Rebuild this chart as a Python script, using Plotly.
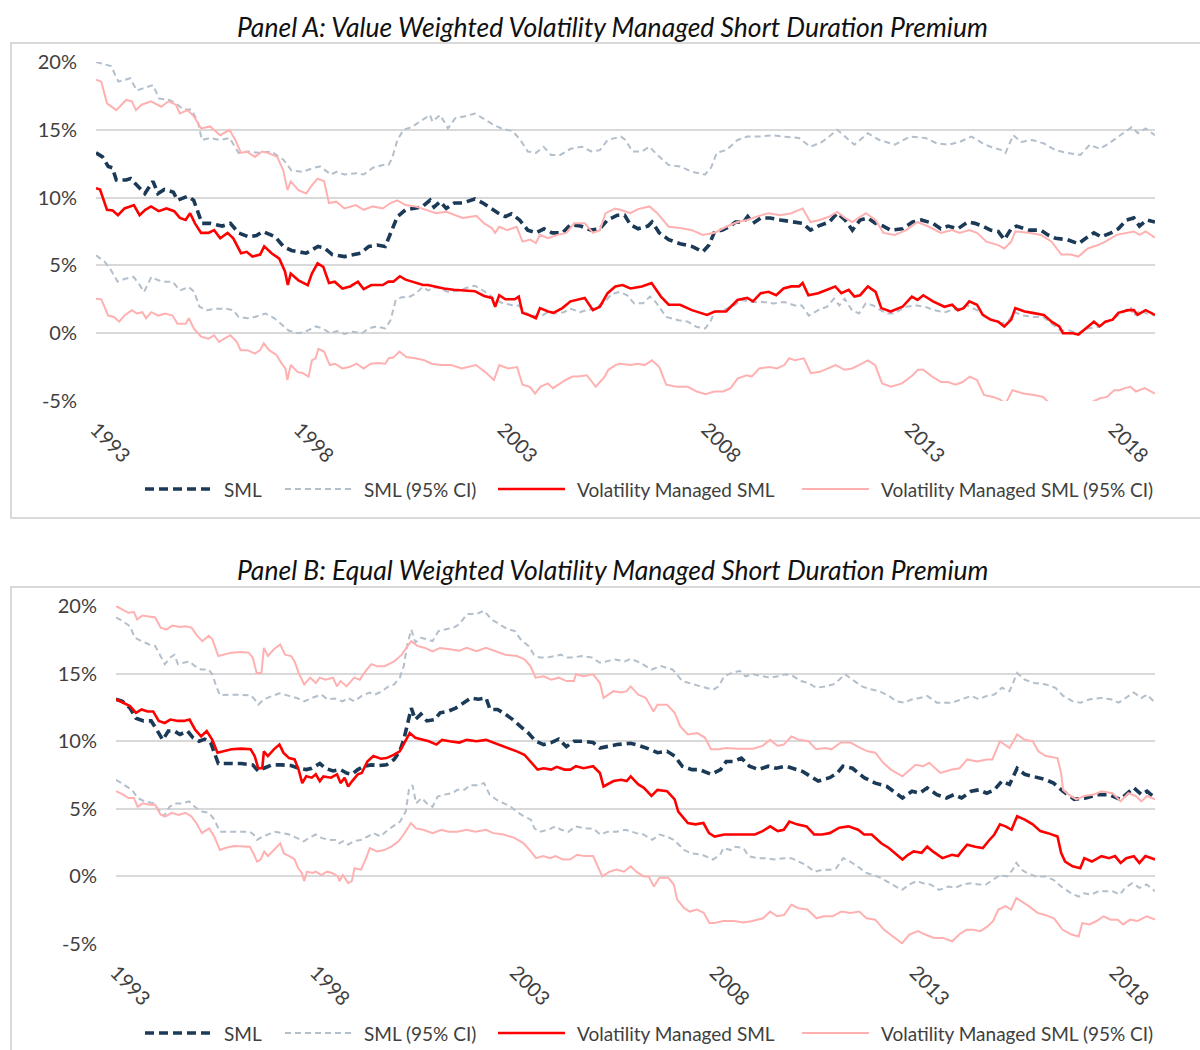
import plotly.graph_objects as go

# ---------------- Panel A data (value weighted) ----------------
a_sml_x = [1993.0, 1993.16, 1993.3, 1993.4, 1993.5, 1993.74, 1993.85, 1994.0, 1994.2, 1994.4, 1994.52, 1994.68, 1994.9, 1995.0, 1995.25, 1995.4, 1995.6, 1995.8, 1996.1, 1996.3, 1996.5, 1996.75, 1996.94, 1997.1, 1997.4, 1997.6, 1997.8, 1998.16, 1998.45, 1998.6, 1998.8, 1999.1, 1999.3, 1999.5, 1999.7, 1999.9, 2000.1, 2000.27, 2000.4, 2000.6, 2000.8, 2001.0, 2001.2, 2001.3, 2001.45, 2001.6, 2001.8, 2002.0, 2002.3, 2002.5, 2002.7, 2002.9, 2003.05, 2003.2, 2003.4, 2003.6, 2003.8, 2004.0, 2004.2, 2004.45, 2004.65, 2004.9, 2005.15, 2005.37, 2005.56, 2005.8, 2005.98, 2006.12, 2006.31, 2006.55, 2006.65, 2006.83, 2007.06, 2007.34, 2007.63, 2007.9, 2008.05, 2008.19, 2008.38, 2008.57, 2008.7, 2008.9, 2009.0, 2009.13, 2009.32, 2009.55, 2009.8, 2010.07, 2010.35, 2010.54, 2010.73, 2011.0, 2011.2, 2011.39, 2011.57, 2011.76, 2011.95, 2012.14, 2012.33, 2012.51, 2012.8, 2013.05, 2013.26, 2013.55, 2013.74, 2013.92, 2014.16, 2014.4, 2014.58, 2014.77, 2014.96, 2015.15, 2015.3, 2015.47, 2015.6, 2015.9, 2016.2, 2016.37, 2016.56, 2016.85, 2017.12, 2017.3, 2017.5, 2017.68, 2017.92, 2018.1, 2018.3, 2018.48, 2018.62, 2018.8, 2019.0]
a_sml_y = [13.3, 13.0, 12.3, 12.2, 11.3, 11.3, 11.4, 10.9, 10.3, 11.2, 10.3, 10.6, 10.4, 9.8, 10.1, 9.8, 8.1, 8.1, 7.9, 8.1, 7.4, 7.1, 7.2, 7.5, 7.1, 6.4, 6.1, 5.9, 6.4, 6.3, 5.8, 5.65, 5.8, 5.9, 6.4, 6.5, 6.4, 7.6, 8.6, 9.1, 9.2, 9.3, 9.8, 9.3, 9.7, 9.2, 9.6, 9.6, 9.9, 9.6, 9.2, 8.8, 8.6, 8.8, 8.35, 7.6, 7.4, 7.7, 7.4, 7.4, 8.0, 7.9, 7.6, 7.7, 8.35, 8.7, 8.7, 8.0, 7.7, 7.9, 8.2, 7.4, 6.9, 6.6, 6.4, 6.0, 6.5, 7.5, 7.6, 7.9, 8.2, 8.2, 8.6, 8.1, 8.5, 8.5, 8.35, 8.2, 8.1, 7.6, 7.9, 8.2, 8.85, 8.35, 7.6, 8.35, 8.5, 8.1, 7.9, 7.6, 7.7, 8.2, 8.35, 8.1, 7.7, 7.9, 7.7, 8.2, 8.1, 7.9, 7.6, 7.5, 6.9, 7.7, 7.9, 7.6, 7.6, 7.25, 7.0, 6.9, 6.6, 7.0, 7.4, 7.1, 7.4, 7.7, 8.35, 8.5, 7.9, 8.35, 8.2]

a_sml_hi_x = [1993.0, 1993.37, 1993.55, 1993.84, 1994.0, 1994.2, 1994.4, 1994.55, 1994.8, 1994.96, 1995.15, 1995.34, 1995.5, 1995.6, 1995.8, 1996.05, 1996.28, 1996.5, 1996.75, 1997.0, 1997.3, 1997.6, 1997.8, 1998.07, 1998.35, 1998.5, 1998.77, 1998.9, 1999.1, 1999.4, 1999.57, 1999.8, 2000.04, 2000.18, 2000.27, 2000.4, 2000.55, 2000.75, 2001.0, 2001.2, 2001.26, 2001.45, 2001.64, 2001.82, 2002.06, 2002.3, 2002.5, 2002.77, 2002.96, 2003.23, 2003.42, 2003.6, 2003.8, 2003.99, 2004.17, 2004.4, 2004.65, 2004.93, 2005.16, 2005.37, 2005.56, 2005.89, 2006.0, 2006.17, 2006.4, 2006.59, 2006.78, 2007.06, 2007.34, 2007.63, 2007.95, 2008.1, 2008.24, 2008.47, 2008.75, 2008.99, 2009.32, 2009.6, 2009.88, 2010.26, 2010.54, 2010.82, 2011.0, 2011.2, 2011.39, 2011.62, 2011.95, 2012.23, 2012.61, 2012.98, 2013.36, 2013.64, 2013.92, 2014.2, 2014.49, 2014.77, 2014.96, 2015.24, 2015.33, 2015.52, 2015.71, 2015.99, 2016.27, 2016.55, 2016.84, 2017.17, 2017.4, 2017.64, 2017.87, 2018.15, 2018.43, 2018.58, 2018.77, 2019.0]
a_sml_hi_y = [20.0, 19.7, 18.55, 18.8, 17.9, 18.1, 18.3, 17.3, 17.2, 16.95, 16.5, 16.5, 15.6, 14.25, 14.4, 14.25, 14.4, 13.3, 13.4, 13.3, 13.4, 12.8, 12.0, 11.9, 12.2, 12.3, 11.7, 11.9, 11.7, 11.8, 11.7, 12.2, 12.4, 12.4, 12.9, 14.25, 15.0, 15.2, 15.7, 16.1, 15.6, 16.1, 15.1, 15.85, 16.0, 16.2, 15.85, 15.35, 15.1, 14.9, 14.25, 13.4, 13.3, 13.75, 13.15, 13.15, 13.6, 13.75, 13.4, 13.5, 14.25, 14.5, 14.25, 13.4, 13.4, 13.75, 13.15, 12.4, 12.3, 11.9, 11.7, 12.2, 13.3, 13.5, 14.25, 14.5, 14.5, 14.6, 14.5, 14.4, 13.75, 14.1, 14.5, 15.0, 14.5, 13.9, 14.75, 14.25, 13.9, 14.5, 14.4, 14.0, 13.9, 14.1, 14.5, 14.0, 13.75, 13.5, 13.3, 14.6, 14.1, 14.25, 14.0, 13.5, 13.3, 13.15, 13.9, 13.6, 14.0, 14.6, 15.2, 14.75, 15.1, 14.6]

a_sml_lo_x = [1993.0, 1993.22, 1993.35, 1993.53, 1993.7, 1993.92, 1994.05, 1994.18, 1994.36, 1994.53, 1994.7, 1994.88, 1995.06, 1995.28, 1995.41, 1995.54, 1995.72, 1995.94, 1996.2, 1996.37, 1996.5, 1996.72, 1996.9, 1997.16, 1997.38, 1997.56, 1997.73, 1997.95, 1998.13, 1998.4, 1998.57, 1998.74, 1998.92, 1999.1, 1999.3, 1999.53, 1999.7, 1999.88, 2000.1, 2000.23, 2000.36, 2000.5, 2000.67, 2000.84, 2001.02, 2001.15, 2001.37, 2001.63, 2001.9, 2002.16, 2002.3, 2002.5, 2002.68, 2002.8, 2003.0, 2003.25, 2003.38, 2003.5, 2003.74, 2003.9, 2004.09, 2004.26, 2004.48, 2004.66, 2004.88, 2005.05, 2005.22, 2005.49, 2005.66, 2005.86, 2006.04, 2006.21, 2006.43, 2006.6, 2006.74, 2007.0, 2007.3, 2007.53, 2007.75, 2007.96, 2008.1, 2008.18, 2008.4, 2008.67, 2008.84, 2009.1, 2009.37, 2009.63, 2009.9, 2010.16, 2010.33, 2010.5, 2010.73, 2010.95, 2011.12, 2011.25, 2011.38, 2011.56, 2011.73, 2011.9, 2012.08, 2012.26, 2012.43, 2012.6, 2012.87, 2013.14, 2013.35, 2013.57, 2013.84, 2014.0, 2014.19, 2014.4, 2014.63, 2014.85, 2015.06, 2015.24, 2015.41, 2015.55, 2015.77, 2016.03, 2016.25, 2016.47, 2016.68, 2016.9, 2017.12, 2017.34, 2017.6, 2017.82, 2018.04, 2018.22, 2018.4, 2018.48, 2018.66, 2018.79, 2019.0]
a_sml_lo_y = [5.75, 5.25, 4.75, 3.8, 4.0, 4.15, 3.65, 3.05, 4.15, 3.9, 3.8, 3.8, 3.15, 3.4, 3.05, 1.95, 1.7, 1.8, 1.8, 1.7, 1.2, 1.1, 1.2, 1.45, 1.1, 0.6, 0.2, 0.0, 0.1, 0.5, 0.35, 0.0, 0.15, -0.05, 0.1, 0.0, 0.35, 0.5, 0.35, 0.95, 2.45, 2.65, 2.65, 2.9, 3.4, 3.15, 3.4, 3.05, 3.15, 3.4, 3.5, 3.15, 2.8, 2.45, 2.2, 2.05, 2.05, 1.55, 1.3, 1.2, 1.55, 1.45, 1.55, 1.8, 1.55, 1.7, 1.8, 2.3, 2.9, 3.05, 2.8, 2.2, 2.2, 2.7, 2.3, 1.2, 0.95, 0.85, 0.45, 0.35, 0.95, 1.55, 1.7, 2.05, 2.45, 2.3, 2.3, 2.2, 2.3, 2.05, 2.05, 1.3, 1.7, 1.95, 2.55, 2.05, 2.55, 1.7, 1.45, 2.2, 2.05, 1.7, 1.45, 1.45, 1.95, 2.05, 1.95, 1.7, 1.55, 1.7, 1.8, 2.05, 1.7, 1.2, 0.95, 0.7, 0.95, 1.55, 1.3, 1.2, 1.2, 0.7, 0.2, 0.2, 0.0, 0.35, 0.45, 0.85, 1.2, 1.55, 1.95, 1.3, 1.7, 1.45, 1.3]

a_vm_x = [1993.0, 1993.1, 1993.27, 1993.41, 1993.54, 1993.7, 1993.84, 1993.93, 1994.07, 1994.21, 1994.35, 1994.54, 1994.73, 1994.92, 1995.06, 1995.2, 1995.31, 1995.43, 1995.58, 1995.76, 1995.9, 1996.05, 1996.23, 1996.37, 1996.56, 1996.7, 1996.84, 1997.03, 1997.13, 1997.31, 1997.5, 1997.64, 1997.71, 1997.78, 1997.97, 1998.2, 1998.3, 1998.44, 1998.58, 1998.72, 1998.86, 1999.05, 1999.24, 1999.43, 1999.57, 1999.76, 2000.04, 2000.18, 2000.3, 2000.46, 2000.6, 2000.84, 2001.03, 2001.15, 2001.3, 2001.54, 2001.78, 2002.0, 2002.3, 2002.53, 2002.72, 2002.8, 2002.9, 2003.05, 2003.28, 2003.38, 2003.47, 2003.66, 2003.8, 2003.9, 2004.1, 2004.23, 2004.45, 2004.65, 2004.8, 2005.0, 2005.2, 2005.37, 2005.56, 2005.75, 2005.93, 2006.12, 2006.4, 2006.64, 2006.87, 2007.06, 2007.34, 2007.63, 2008.0, 2008.19, 2008.47, 2008.75, 2008.99, 2009.13, 2009.32, 2009.51, 2009.7, 2009.88, 2010.07, 2010.26, 2010.35, 2010.49, 2010.73, 2010.92, 2011.15, 2011.3, 2011.48, 2011.62, 2011.76, 2011.95, 2012.14, 2012.28, 2012.51, 2012.8, 2013.03, 2013.17, 2013.31, 2013.55, 2013.83, 2014.02, 2014.16, 2014.3, 2014.44, 2014.63, 2014.77, 2014.96, 2015.15, 2015.3, 2015.47, 2015.57, 2015.8, 2015.99, 2016.27, 2016.46, 2016.65, 2016.74, 2016.98, 2017.12, 2017.3, 2017.5, 2017.64, 2017.78, 2017.96, 2018.1, 2018.34, 2018.48, 2018.57, 2018.77, 2019.0]
a_vm_y = [10.7, 10.6, 9.1, 9.05, 8.7, 9.2, 9.35, 9.45, 8.7, 9.1, 9.35, 9.0, 9.2, 9.0, 8.5, 8.35, 8.85, 8.1, 7.4, 7.4, 7.6, 7.0, 7.4, 7.0, 5.9, 6.0, 5.65, 5.8, 6.4, 5.9, 5.5, 4.55, 3.55, 4.4, 3.9, 3.55, 4.4, 5.15, 4.9, 3.7, 3.8, 3.3, 3.45, 3.8, 3.25, 3.55, 3.55, 3.8, 3.8, 4.2, 3.95, 3.7, 3.55, 3.55, 3.45, 3.3, 3.2, 3.15, 3.1, 2.75, 2.6, 1.95, 2.8, 2.5, 2.5, 2.7, 1.5, 1.3, 1.1, 1.85, 1.6, 1.5, 1.85, 2.35, 2.45, 2.6, 1.7, 1.95, 2.95, 3.45, 3.55, 3.3, 3.45, 3.7, 2.7, 2.1, 2.1, 1.7, 1.35, 1.6, 1.6, 2.45, 2.6, 2.35, 2.95, 3.05, 2.8, 3.3, 3.45, 3.45, 3.7, 2.8, 2.95, 3.2, 3.45, 2.95, 3.2, 2.7, 2.8, 3.45, 3.05, 1.85, 1.6, 1.95, 2.7, 2.45, 2.8, 2.35, 1.95, 2.1, 1.7, 1.85, 2.35, 2.1, 1.35, 1.0, 0.85, 0.5, 1.0, 1.85, 1.6, 1.5, 1.35, 0.85, 0.5, 0.0, 0.0, -0.1, 0.35, 0.85, 0.5, 0.85, 1.0, 1.5, 1.7, 1.7, 1.35, 1.7, 1.35]

a_vm_hi_x = [1993.0, 1993.13, 1993.27, 1993.5, 1993.74, 1993.88, 1993.98, 1994.12, 1994.35, 1994.6, 1994.78, 1994.96, 1995.06, 1995.25, 1995.4, 1995.58, 1995.8, 1996.05, 1996.28, 1996.42, 1996.56, 1996.7, 1996.9, 1997.08, 1997.22, 1997.45, 1997.6, 1997.7, 1997.78, 1997.97, 1998.16, 1998.3, 1998.44, 1998.6, 1998.72, 1998.9, 1999.1, 1999.38, 1999.57, 1999.8, 2000.04, 2000.23, 2000.4, 2000.6, 2000.84, 2001.07, 2001.35, 2001.6, 2001.82, 2002.0, 2002.34, 2002.53, 2002.72, 2002.8, 2002.9, 2003.1, 2003.33, 2003.47, 2003.66, 2003.8, 2003.9, 2004.1, 2004.33, 2004.55, 2004.74, 2005.0, 2005.2, 2005.37, 2005.51, 2005.75, 2005.93, 2006.12, 2006.31, 2006.59, 2006.78, 2007.06, 2007.34, 2007.63, 2007.9, 2008.19, 2008.47, 2008.75, 2008.99, 2009.22, 2009.51, 2009.8, 2010.07, 2010.35, 2010.54, 2010.77, 2011.0, 2011.2, 2011.39, 2011.57, 2011.9, 2012.14, 2012.33, 2012.61, 2012.89, 2013.17, 2013.45, 2013.74, 2014.02, 2014.2, 2014.44, 2014.63, 2014.86, 2015.15, 2015.3, 2015.47, 2015.57, 2015.9, 2016.2, 2016.46, 2016.7, 2016.93, 2017.12, 2017.35, 2017.6, 2017.78, 2018.06, 2018.34, 2018.48, 2018.62, 2018.77, 2019.0]
a_vm_hi_y = [18.7, 18.55, 16.95, 16.45, 17.2, 17.1, 16.45, 16.85, 17.1, 16.7, 17.1, 16.85, 16.2, 16.45, 16.0, 15.1, 15.25, 14.6, 15.0, 14.25, 13.3, 13.4, 13.0, 13.4, 13.3, 13.0, 12.0, 10.55, 11.2, 10.55, 10.3, 10.9, 11.4, 11.2, 9.6, 9.7, 9.2, 9.45, 9.1, 9.35, 9.2, 9.6, 9.8, 9.45, 9.35, 9.1, 8.85, 8.95, 8.7, 8.5, 8.65, 8.1, 7.75, 7.4, 7.85, 7.6, 7.85, 6.75, 6.9, 6.65, 7.25, 7.0, 7.25, 7.4, 8.1, 8.1, 7.4, 7.6, 8.85, 9.2, 9.05, 8.85, 9.15, 9.35, 8.85, 7.85, 7.75, 7.6, 7.25, 7.4, 7.85, 8.2, 8.35, 8.6, 8.85, 8.7, 8.85, 9.2, 8.2, 8.35, 8.6, 8.95, 8.5, 8.2, 8.85, 8.35, 7.4, 7.25, 7.6, 8.2, 7.85, 7.4, 7.6, 7.4, 7.6, 7.4, 6.75, 6.5, 6.25, 6.75, 7.5, 7.4, 7.25, 6.75, 5.8, 5.8, 5.65, 6.25, 6.5, 6.75, 7.25, 7.4, 7.5, 7.25, 7.5, 7.05]

a_vm_lo_x = [1993.0, 1993.13, 1993.3, 1993.44, 1993.57, 1993.7, 1993.88, 1994.0, 1994.14, 1994.23, 1994.36, 1994.53, 1994.7, 1994.88, 1995.0, 1995.2, 1995.28, 1995.4, 1995.58, 1995.76, 1995.9, 1996.02, 1996.15, 1996.3, 1996.46, 1996.55, 1996.72, 1996.9, 1997.03, 1997.12, 1997.25, 1997.43, 1997.56, 1997.65, 1997.7, 1997.78, 1997.95, 1998.08, 1998.22, 1998.3, 1998.39, 1998.46, 1998.6, 1998.74, 1998.87, 1999.05, 1999.22, 1999.4, 1999.57, 1999.75, 1999.92, 2000.1, 2000.19, 2000.3, 2000.45, 2000.62, 2000.84, 2001.06, 2001.24, 2001.46, 2001.72, 2001.98, 2002.33, 2002.55, 2002.77, 2002.9, 2003.12, 2003.34, 2003.47, 2003.65, 2003.78, 2003.91, 2004.09, 2004.22, 2004.4, 2004.53, 2004.7, 2004.83, 2005.05, 2005.27, 2005.49, 2005.58, 2005.75, 2005.86, 2006.12, 2006.3, 2006.47, 2006.65, 2006.83, 2007.0, 2007.26, 2007.53, 2007.75, 2007.96, 2008.18, 2008.4, 2008.58, 2008.75, 2008.97, 2009.1, 2009.28, 2009.54, 2009.72, 2009.9, 2010.02, 2010.16, 2010.38, 2010.55, 2010.77, 2010.95, 2011.16, 2011.38, 2011.56, 2011.73, 2011.95, 2012.13, 2012.3, 2012.52, 2012.79, 2013.05, 2013.18, 2013.31, 2013.53, 2013.75, 2013.92, 2014.1, 2014.28, 2014.45, 2014.63, 2014.8, 2015.02, 2015.2, 2015.33, 2015.5, 2015.77, 2016.03, 2016.25, 2016.42, 2016.64, 2016.9, 2017.12, 2017.34, 2017.47, 2017.65, 2017.82, 2018.0, 2018.13, 2018.26, 2018.4, 2018.53, 2018.75, 2019.0]
a_vm_lo_y = [2.55, 2.5, 1.3, 1.2, 0.85, 1.3, 1.7, 1.45, 1.55, 1.1, 1.55, 1.3, 1.45, 1.3, 0.7, 0.7, 1.1, 0.35, -0.25, -0.4, -0.15, -0.65, -0.4, -0.15, -0.65, -1.25, -1.25, -1.5, -1.25, -0.75, -1.25, -1.6, -2.25, -2.6, -3.45, -2.35, -2.85, -2.95, -3.2, -2.0, -1.85, -1.15, -1.35, -2.35, -2.25, -2.6, -2.5, -2.25, -2.6, -2.25, -2.2, -2.25, -1.85, -1.8, -1.35, -1.75, -1.85, -2.0, -2.25, -2.35, -2.35, -2.6, -2.35, -2.85, -3.45, -2.35, -2.6, -2.5, -3.8, -3.95, -4.45, -3.95, -3.7, -4.05, -3.7, -3.45, -3.2, -3.2, -3.1, -3.95, -3.2, -2.7, -2.35, -2.25, -2.35, -2.25, -2.35, -2.0, -2.5, -3.8, -3.95, -3.95, -4.3, -4.5, -4.3, -4.3, -4.05, -3.35, -3.1, -3.2, -2.6, -2.5, -2.6, -2.35, -1.85, -2.0, -1.85, -2.95, -2.85, -2.6, -2.35, -2.7, -2.6, -2.35, -2.0, -2.35, -3.7, -3.95, -3.7, -3.1, -2.7, -2.7, -3.2, -3.6, -3.6, -3.8, -3.6, -3.2, -3.45, -4.55, -4.7, -4.9, -5.2, -4.2, -4.45, -4.55, -4.7, -5.2, -5.7, -5.7, -5.8, -5.3, -5.05, -4.8, -4.7, -4.2, -4.2, -4.05, -3.95, -4.3, -4.05, -4.45]

# ---------------- Panel B data (equal weighted) ----------------
b_sml_x = [1993.0, 1993.16, 1993.35, 1993.5, 1993.69, 1993.88, 1994.02, 1994.17, 1994.31, 1994.46, 1994.6, 1994.79, 1994.93, 1995.08, 1995.22, 1995.37, 1995.46, 1995.56, 1995.84, 1996.13, 1996.42, 1996.56, 1996.7, 1996.9, 1997.14, 1997.38, 1997.57, 1997.76, 1997.9, 1998.1, 1998.24, 1998.43, 1998.62, 1998.77, 1998.91, 1999.05, 1999.2, 1999.39, 1999.58, 1999.77, 1999.96, 2000.1, 2000.2, 2000.3, 2000.39, 2000.49, 2000.63, 2000.78, 2000.97, 2001.11, 2001.3, 2001.5, 2001.69, 2001.88, 2002.07, 2002.26, 2002.36, 2002.55, 2002.74, 2002.93, 2003.12, 2003.32, 2003.5, 2003.7, 2003.89, 2004.08, 2004.27, 2004.46, 2004.7, 2004.94, 2005.11, 2005.3, 2005.54, 2005.88, 2006.07, 2006.36, 2006.55, 2006.79, 2006.98, 2007.17, 2007.41, 2007.6, 2007.89, 2008.13, 2008.27, 2008.46, 2008.65, 2008.85, 2009.08, 2009.32, 2009.52, 2009.76, 2009.95, 2010.19, 2010.38, 2010.57, 2010.86, 2011.05, 2011.19, 2011.43, 2011.72, 2012.0, 2012.29, 2012.53, 2012.68, 2012.92, 2013.11, 2013.3, 2013.54, 2013.78, 2013.97, 2014.16, 2014.4, 2014.59, 2014.79, 2014.98, 2015.17, 2015.36, 2015.55, 2015.74, 2016.03, 2016.27, 2016.46, 2016.7, 2016.98, 2017.27, 2017.56, 2017.85, 2018.13, 2018.28, 2018.47, 2018.66, 2018.8, 2019.0]
b_sml_y = [13.1, 12.95, 12.45, 11.7, 11.5, 11.5, 10.85, 10.1, 10.75, 10.75, 10.5, 10.75, 10.25, 10.0, 10.15, 9.9, 9.15, 8.35, 8.35, 8.35, 8.25, 7.8, 8.0, 8.25, 8.25, 8.2, 8.0, 7.9, 8.0, 8.35, 8.0, 7.8, 7.9, 7.65, 7.55, 7.9, 8.15, 8.25, 8.2, 8.25, 8.65, 9.25, 10.1, 11.25, 12.45, 11.6, 12.0, 11.5, 11.6, 12.1, 12.2, 12.45, 12.85, 13.2, 13.1, 13.2, 12.35, 12.35, 12.0, 11.6, 11.1, 10.6, 10.0, 9.75, 9.9, 10.15, 9.6, 10.0, 10.0, 9.9, 9.5, 9.6, 9.75, 9.85, 9.7, 9.4, 9.15, 9.25, 8.9, 8.15, 7.9, 7.9, 7.55, 7.9, 8.5, 8.5, 8.75, 8.15, 7.9, 8.15, 8.0, 8.15, 8.0, 7.75, 7.4, 7.05, 7.3, 7.65, 8.15, 8.0, 7.3, 6.9, 6.65, 6.15, 5.8, 6.3, 6.15, 6.55, 6.05, 5.8, 6.05, 5.8, 6.3, 6.4, 6.15, 6.4, 7.05, 6.8, 8.0, 7.55, 7.3, 7.15, 6.9, 6.3, 5.7, 5.8, 6.05, 6.05, 5.7, 6.05, 6.55, 6.05, 6.3, 5.8]

b_sml_hi_x = [1993.0, 1993.16, 1993.35, 1993.47, 1993.64, 1993.83, 1993.98, 1994.12, 1994.22, 1994.36, 1994.46, 1994.55, 1994.7, 1994.84, 1994.98, 1995.13, 1995.32, 1995.41, 1995.51, 1995.6, 1995.84, 1996.13, 1996.37, 1996.47, 1996.56, 1996.7, 1996.9, 1997.09, 1997.33, 1997.52, 1997.71, 1997.9, 1998.14, 1998.29, 1998.48, 1998.67, 1998.81, 1998.96, 1999.15, 1999.34, 1999.48, 1999.63, 1999.82, 1999.96, 2000.1, 2000.2, 2000.3, 2000.39, 2000.49, 2000.63, 2000.78, 2000.92, 2001.07, 2001.26, 2001.45, 2001.59, 2001.78, 2002.02, 2002.21, 2002.4, 2002.59, 2002.79, 2002.98, 2003.12, 2003.32, 2003.46, 2003.6, 2003.8, 2003.99, 2004.13, 2004.27, 2004.46, 2004.65, 2004.9, 2005.11, 2005.25, 2005.49, 2005.73, 2005.88, 2006.12, 2006.4, 2006.64, 2006.93, 2007.17, 2007.46, 2007.7, 2007.94, 2008.08, 2008.22, 2008.41, 2008.61, 2008.75, 2008.94, 2009.18, 2009.37, 2009.56, 2009.76, 2009.95, 2010.14, 2010.33, 2010.52, 2010.76, 2010.95, 2011.1, 2011.24, 2011.43, 2011.67, 2011.86, 2012.1, 2012.34, 2012.53, 2012.72, 2012.92, 2013.11, 2013.3, 2013.54, 2013.73, 2013.92, 2014.16, 2014.4, 2014.59, 2014.79, 2014.98, 2015.17, 2015.36, 2015.55, 2015.74, 2015.98, 2016.27, 2016.51, 2016.7, 2016.94, 2017.13, 2017.37, 2017.66, 2017.9, 2018.09, 2018.28, 2018.47, 2018.66, 2018.8, 2019.0]
b_sml_hi_y = [19.15, 18.9, 18.5, 17.65, 17.4, 17.15, 17.05, 16.3, 15.7, 16.2, 16.4, 15.7, 15.8, 15.9, 15.55, 15.3, 15.3, 14.95, 14.05, 13.4, 13.45, 13.4, 13.4, 13.1, 12.7, 13.1, 13.35, 13.55, 13.35, 13.2, 12.95, 13.2, 13.45, 13.1, 13.15, 12.95, 13.2, 12.95, 13.35, 13.6, 13.45, 13.65, 14.05, 14.2, 14.7, 15.55, 17.3, 18.25, 17.3, 17.65, 17.55, 17.4, 18.15, 18.3, 18.4, 18.65, 19.4, 19.4, 19.65, 19.0, 18.65, 18.3, 18.15, 17.55, 17.05, 16.4, 16.2, 16.2, 16.3, 16.4, 16.2, 16.2, 16.3, 16.2, 15.8, 15.9, 16.05, 15.9, 16.1, 15.8, 15.3, 15.55, 15.3, 14.45, 14.2, 14.05, 13.8, 14.05, 14.8, 15.05, 15.2, 14.8, 14.95, 14.8, 14.7, 14.8, 14.95, 14.8, 14.45, 14.3, 13.95, 14.05, 14.2, 14.55, 14.95, 14.55, 14.05, 13.85, 13.7, 13.35, 12.95, 12.85, 13.1, 13.2, 13.35, 12.85, 12.85, 12.85, 13.1, 13.35, 13.1, 13.35, 13.45, 13.95, 13.7, 15.05, 14.55, 14.3, 14.2, 13.95, 13.35, 12.95, 12.85, 13.1, 13.2, 13.1, 12.85, 13.2, 13.6, 13.2, 13.45, 12.85]

b_sml_lo_x = [1993.0, 1993.22, 1993.4, 1993.54, 1993.72, 1993.94, 1994.07, 1994.2, 1994.34, 1994.48, 1994.65, 1994.83, 1994.97, 1995.15, 1995.33, 1995.46, 1995.6, 1995.82, 1996.13, 1996.35, 1996.44, 1996.53, 1996.67, 1996.8, 1996.98, 1997.16, 1997.34, 1997.52, 1997.7, 1997.83, 1998.0, 1998.14, 1998.32, 1998.5, 1998.59, 1998.68, 1998.81, 1998.95, 1999.13, 1999.3, 1999.44, 1999.62, 1999.75, 1999.93, 2000.11, 2000.25, 2000.33, 2000.42, 2000.51, 2000.65, 2000.78, 2000.92, 2001.05, 2001.23, 2001.41, 2001.54, 2001.72, 2001.86, 2002.03, 2002.21, 2002.35, 2002.53, 2002.7, 2002.88, 2003.02, 2003.2, 2003.38, 2003.47, 2003.6, 2003.82, 2004.0, 2004.14, 2004.32, 2004.5, 2004.72, 2004.94, 2005.12, 2005.3, 2005.52, 2005.75, 2006.02, 2006.2, 2006.42, 2006.6, 2006.78, 2006.96, 2007.22, 2007.4, 2007.67, 2007.94, 2008.12, 2008.2, 2008.38, 2008.47, 2008.7, 2008.83, 2009.05, 2009.28, 2009.46, 2009.72, 2009.9, 2010.08, 2010.26, 2010.48, 2010.7, 2010.88, 2011.02, 2011.2, 2011.37, 2011.55, 2011.78, 2011.96, 2012.13, 2012.36, 2012.67, 2012.85, 2013.03, 2013.2, 2013.38, 2013.6, 2013.83, 2014.0, 2014.19, 2014.4, 2014.59, 2014.77, 2014.95, 2015.12, 2015.3, 2015.44, 2015.53, 2015.66, 2015.8, 2016.02, 2016.25, 2016.46, 2016.69, 2016.91, 2017.09, 2017.22, 2017.41, 2017.58, 2017.76, 2017.94, 2018.12, 2018.25, 2018.43, 2018.61, 2018.79, 2019.0]
b_sml_lo_y = [7.15, 6.75, 6.4, 5.8, 5.55, 5.4, 4.9, 4.45, 5.15, 5.4, 5.4, 5.55, 5.15, 4.8, 4.7, 4.2, 3.3, 3.3, 3.3, 3.3, 3.1, 2.7, 2.95, 3.1, 3.3, 3.2, 3.1, 2.85, 2.6, 2.85, 3.1, 2.85, 2.7, 2.7, 2.45, 2.6, 2.35, 2.6, 2.7, 2.95, 3.2, 2.95, 3.3, 3.7, 4.05, 4.8, 6.4, 6.75, 5.4, 5.8, 5.4, 5.15, 5.9, 6.05, 6.15, 6.4, 6.4, 6.75, 6.75, 6.9, 6.05, 5.65, 5.4, 5.15, 4.8, 4.45, 4.2, 3.55, 3.3, 3.45, 3.7, 3.45, 3.3, 3.7, 3.55, 3.55, 3.1, 3.3, 3.3, 3.45, 3.2, 3.1, 2.7, 3.1, 2.95, 2.7, 1.95, 1.7, 1.6, 1.25, 1.6, 2.1, 1.95, 2.2, 2.1, 1.5, 1.35, 1.35, 1.25, 1.35, 1.35, 1.1, 0.85, 0.35, 0.5, 0.5, 0.6, 1.35, 1.1, 0.75, 0.25, 0.1, -0.1, -0.5, -1.0, -0.6, -0.35, -0.5, -0.6, -1.0, -0.75, -0.85, -0.6, -0.5, -0.6, -0.6, -0.25, 0.1, 0.0, 0.5, 1.0, 0.5, 0.25, 0.0, 0.0, -0.25, -0.85, -1.25, -1.5, -1.25, -1.35, -1.1, -1.1, -1.1, -1.35, -0.85, -0.5, -0.85, -0.6, -1.1]

b_vm_x = [1993.0, 1993.16, 1993.35, 1993.5, 1993.64, 1993.79, 1993.93, 1994.07, 1994.22, 1994.36, 1994.55, 1994.7, 1994.84, 1994.98, 1995.13, 1995.27, 1995.41, 1995.54, 1995.7, 1995.89, 1996.13, 1996.37, 1996.47, 1996.56, 1996.66, 1996.7, 1996.8, 1996.95, 1997.09, 1997.19, 1997.33, 1997.47, 1997.57, 1997.66, 1997.76, 1997.9, 1998.0, 1998.1, 1998.19, 1998.38, 1998.53, 1998.62, 1998.72, 1998.81, 1998.91, 1999.05, 1999.15, 1999.29, 1999.44, 1999.63, 1999.77, 1999.96, 2000.1, 2000.25, 2000.35, 2000.49, 2000.63, 2000.83, 2001.02, 2001.16, 2001.35, 2001.59, 2001.78, 2002.02, 2002.26, 2002.45, 2002.74, 2003.03, 2003.22, 2003.41, 2003.55, 2003.7, 2003.89, 2004.03, 2004.22, 2004.37, 2004.51, 2004.7, 2004.94, 2005.11, 2005.2, 2005.45, 2005.64, 2005.78, 2005.88, 2006.07, 2006.21, 2006.4, 2006.55, 2006.79, 2006.98, 2007.07, 2007.17, 2007.31, 2007.5, 2007.7, 2007.84, 2007.98, 2008.22, 2008.46, 2008.75, 2008.99, 2009.18, 2009.37, 2009.56, 2009.71, 2009.85, 2010.04, 2010.28, 2010.47, 2010.67, 2010.86, 2011.1, 2011.33, 2011.57, 2011.72, 2011.91, 2012.15, 2012.34, 2012.53, 2012.68, 2012.82, 2012.96, 2013.16, 2013.3, 2013.44, 2013.68, 2013.92, 2014.07, 2014.16, 2014.3, 2014.5, 2014.69, 2014.83, 2014.98, 2015.12, 2015.26, 2015.41, 2015.55, 2015.74, 2015.94, 2016.13, 2016.32, 2016.56, 2016.65, 2016.75, 2016.94, 2017.13, 2017.23, 2017.42, 2017.66, 2017.85, 2018.0, 2018.14, 2018.28, 2018.47, 2018.61, 2018.76, 2019.0]
b_vm_y = [13.1, 12.85, 12.6, 12.1, 12.35, 12.2, 12.2, 11.5, 11.35, 11.6, 11.5, 11.5, 11.6, 10.85, 10.35, 10.75, 10.1, 9.15, 9.25, 9.4, 9.45, 9.4, 8.9, 8.0, 8.0, 9.25, 8.9, 9.4, 9.75, 9.15, 8.75, 8.65, 7.9, 6.9, 7.4, 7.3, 7.55, 7.05, 7.4, 7.3, 7.55, 6.9, 7.3, 6.65, 7.05, 7.55, 7.65, 8.5, 8.9, 8.7, 8.75, 9.0, 9.25, 10.1, 10.6, 10.25, 10.15, 10.0, 9.75, 10.1, 10.0, 9.9, 10.1, 10.0, 10.1, 9.9, 9.6, 9.25, 9.0, 8.4, 7.9, 8.0, 7.9, 8.1, 7.9, 7.9, 8.15, 8.0, 8.15, 7.65, 6.65, 7.05, 7.15, 7.05, 7.4, 6.8, 6.55, 5.95, 6.4, 6.3, 5.7, 4.8, 4.45, 3.95, 3.85, 3.95, 3.2, 2.95, 3.1, 3.1, 3.1, 3.1, 3.35, 3.7, 3.35, 3.45, 4.05, 3.85, 3.7, 3.1, 3.1, 3.2, 3.6, 3.7, 3.45, 3.1, 3.1, 2.45, 2.1, 1.6, 1.25, 1.6, 1.85, 1.75, 2.2, 1.85, 1.35, 1.6, 1.5, 1.85, 2.35, 2.2, 2.1, 2.6, 3.1, 3.85, 3.7, 3.45, 4.45, 4.2, 3.85, 3.35, 3.2, 2.95, 1.75, 1.1, 0.75, 0.6, 1.35, 1.1, 1.5, 1.35, 1.5, 1.0, 1.35, 1.5, 1.0, 1.5, 1.25]

b_vm_hi_x = [1993.0, 1993.16, 1993.31, 1993.45, 1993.53, 1993.66, 1993.83, 1993.98, 1994.12, 1994.26, 1994.41, 1994.6, 1994.74, 1994.89, 1995.03, 1995.16, 1995.32, 1995.41, 1995.56, 1995.7, 1995.89, 1996.13, 1996.32, 1996.42, 1996.52, 1996.64, 1996.7, 1996.8, 1996.95, 1997.11, 1997.23, 1997.38, 1997.47, 1997.57, 1997.71, 1997.86, 1998.0, 1998.1, 1998.24, 1998.43, 1998.53, 1998.62, 1998.77, 1998.96, 1999.1, 1999.25, 1999.39, 1999.53, 1999.72, 1999.96, 2000.15, 2000.3, 2000.39, 2000.54, 2000.73, 2000.92, 2001.11, 2001.35, 2001.59, 2001.78, 2002.02, 2002.26, 2002.5, 2002.74, 2003.03, 2003.22, 2003.37, 2003.5, 2003.7, 2003.89, 2004.08, 2004.27, 2004.46, 2004.51, 2004.7, 2004.94, 2005.11, 2005.2, 2005.45, 2005.64, 2005.78, 2005.88, 2006.07, 2006.26, 2006.45, 2006.55, 2006.79, 2006.98, 2007.12, 2007.31, 2007.55, 2007.74, 2007.89, 2008.08, 2008.27, 2008.56, 2008.94, 2009.18, 2009.37, 2009.56, 2009.71, 2009.9, 2010.09, 2010.33, 2010.52, 2010.76, 2010.9, 2011.14, 2011.38, 2011.62, 2011.81, 2012.0, 2012.2, 2012.39, 2012.68, 2012.87, 2013.01, 2013.2, 2013.35, 2013.63, 2013.92, 2014.11, 2014.3, 2014.55, 2014.79, 2014.93, 2015.12, 2015.36, 2015.55, 2015.74, 2015.94, 2016.08, 2016.27, 2016.56, 2016.65, 2016.7, 2016.84, 2017.03, 2017.23, 2017.47, 2017.66, 2017.94, 2018.14, 2018.33, 2018.52, 2018.66, 2018.8, 2019.0]
b_vm_hi_y = [20.0, 19.75, 19.5, 19.55, 19.0, 19.3, 19.2, 19.15, 18.4, 18.25, 18.55, 18.45, 18.5, 18.4, 17.8, 17.4, 17.8, 17.55, 16.3, 16.4, 16.55, 16.6, 16.55, 16.2, 15.05, 15.05, 16.9, 16.3, 16.8, 17.15, 16.4, 16.3, 15.9, 15.05, 14.2, 14.7, 14.3, 14.7, 14.55, 14.7, 14.05, 14.45, 14.05, 14.7, 14.55, 15.2, 15.7, 15.55, 15.55, 15.9, 16.4, 17.05, 17.4, 17.05, 16.9, 16.65, 16.9, 16.8, 16.7, 16.9, 16.65, 16.9, 16.65, 16.4, 16.3, 16.05, 15.55, 14.7, 14.8, 14.55, 14.7, 14.45, 14.45, 14.95, 14.8, 14.95, 14.3, 13.2, 13.7, 13.6, 13.7, 14.05, 13.45, 13.2, 12.2, 12.7, 12.7, 12.1, 11.1, 10.5, 10.6, 10.25, 9.4, 9.4, 9.5, 9.45, 9.45, 9.65, 10.1, 9.65, 9.75, 10.35, 10.1, 10.0, 9.4, 9.5, 9.4, 9.9, 9.9, 9.5, 9.25, 9.15, 8.4, 7.9, 7.4, 7.9, 8.25, 8.15, 8.4, 7.65, 7.9, 8.0, 8.65, 8.5, 8.65, 8.65, 10.0, 9.5, 10.5, 10.1, 10.0, 9.25, 8.9, 8.75, 7.65, 6.4, 6.05, 5.7, 5.95, 6.05, 6.3, 6.15, 5.55, 6.15, 5.95, 5.55, 5.95, 5.7]

b_vm_lo_x = [1993.0, 1993.18, 1993.31, 1993.45, 1993.54, 1993.67, 1993.85, 1993.98, 1994.12, 1994.25, 1994.39, 1994.57, 1994.74, 1994.88, 1995.01, 1995.15, 1995.33, 1995.46, 1995.6, 1995.73, 1995.95, 1996.18, 1996.35, 1996.44, 1996.53, 1996.62, 1996.71, 1996.8, 1996.98, 1997.11, 1997.2, 1997.34, 1997.47, 1997.56, 1997.65, 1997.71, 1997.78, 1997.92, 1998.0, 1998.14, 1998.28, 1998.41, 1998.55, 1998.59, 1998.68, 1998.81, 1998.9, 1998.97, 1999.13, 1999.26, 1999.35, 1999.53, 1999.71, 1999.89, 2000.07, 2000.2, 2000.38, 2000.51, 2000.69, 2000.92, 2001.14, 2001.32, 2001.54, 2001.77, 2001.99, 2002.26, 2002.44, 2002.7, 2002.97, 2003.2, 2003.38, 2003.51, 2003.69, 2003.87, 2004.0, 2004.18, 2004.36, 2004.54, 2004.72, 2004.94, 2005.17, 2005.35, 2005.53, 2005.71, 2005.88, 2006.02, 2006.2, 2006.33, 2006.46, 2006.6, 2006.82, 2006.96, 2007.04, 2007.22, 2007.36, 2007.54, 2007.71, 2007.85, 2007.98, 2008.2, 2008.47, 2008.7, 2008.92, 2009.19, 2009.37, 2009.54, 2009.72, 2009.9, 2010.08, 2010.3, 2010.53, 2010.71, 2010.93, 2011.15, 2011.38, 2011.6, 2011.78, 2012.0, 2012.22, 2012.45, 2012.67, 2012.85, 2013.07, 2013.25, 2013.47, 2013.7, 2013.92, 2014.1, 2014.28, 2014.46, 2014.63, 2014.81, 2014.95, 2015.08, 2015.26, 2015.4, 2015.53, 2015.66, 2015.84, 2016.06, 2016.25, 2016.47, 2016.69, 2016.91, 2017.09, 2017.18, 2017.36, 2017.54, 2017.71, 2017.89, 2018.07, 2018.2, 2018.38, 2018.56, 2018.79, 2019.0]
b_vm_lo_y = [6.3, 6.05, 5.8, 5.8, 5.15, 5.4, 5.3, 5.3, 4.55, 4.45, 4.7, 4.55, 4.7, 4.45, 3.95, 3.2, 3.55, 2.95, 1.95, 2.1, 2.25, 2.25, 2.2, 1.7, 1.1, 1.25, 1.85, 1.5, 2.1, 2.45, 1.7, 1.5, 1.25, 0.6, 0.25, -0.35, 0.35, 0.25, 0.35, 0.1, 0.35, 0.25, 0.0, -0.35, 0.1, -0.5, -0.35, 0.6, 0.5, 1.35, 2.1, 1.85, 1.95, 2.2, 2.6, 3.1, 3.95, 3.55, 3.45, 3.2, 3.45, 3.3, 3.3, 3.45, 3.3, 3.45, 3.2, 3.1, 2.85, 2.45, 1.85, 1.35, 1.5, 1.35, 1.5, 1.25, 1.25, 1.6, 1.5, 1.5, 0.0, 0.35, 0.5, 0.35, 0.75, 0.35, 0.0, 0.0, -0.75, -0.1, -0.1, -0.6, -1.7, -2.35, -2.6, -2.45, -2.7, -3.45, -3.45, -3.3, -3.3, -3.4, -3.3, -3.1, -2.6, -2.95, -2.85, -2.1, -2.35, -2.45, -3.1, -2.95, -2.95, -2.6, -2.7, -2.6, -3.1, -3.2, -3.95, -4.45, -4.95, -4.3, -4.05, -4.3, -4.55, -4.55, -4.8, -4.3, -3.95, -3.95, -4.05, -3.7, -3.3, -2.45, -2.2, -2.45, -1.6, -1.85, -2.2, -2.7, -2.85, -3.1, -3.95, -4.3, -4.45, -3.45, -3.55, -3.3, -2.95, -3.2, -3.2, -3.55, -3.2, -3.3, -2.95, -3.2]

# ---------------- labels ----------------
year_ticks = [1993, 1998, 2003, 2008, 2013, 2018]
year_labels = ["1993", "1998", "2003", "2008", "2013", "2018"]
pct_ticks = [-5, 0, 5, 10, 15, 20]
pct_labels = ["-5%", "0%", "5%", "10%", "15%", "20%"]
legend_names = ["SML", "SML (95% CI)", "Volatility Managed SML", "Volatility Managed SML (95% CI)"]
panel_titles = ["Panel A: Value Weighted Volatility Managed Short Duration Premium",
                "Panel B: Equal Weighted Volatility Managed Short Duration Premium"]

# ---------------- styles ----------------
C_SML = "#1b3a57"
C_SMLCI = "#b3bfcb"
C_VM = "#ff0000"
C_VMCI = "#ffb1b1"
FONT = "Lato"
TXT = "#404040"
GRID = "#d9d9d9"

st_sml = dict(color=C_SML, width=3.6, dash="9px,5px")
st_smlci = dict(color=C_SMLCI, width=2, dash="6px,4px")
st_vm = dict(color=C_VM, width=2.6)
st_vmci = dict(color=C_VMCI, width=2)

fig = go.Figure()

panels = [
    ("x", "y", [(a_sml_x, a_sml_y, st_sml), (a_sml_hi_x, a_sml_hi_y, st_smlci), (a_sml_lo_x, a_sml_lo_y, st_smlci),
                (a_vm_x, a_vm_y, st_vm), (a_vm_hi_x, a_vm_hi_y, st_vmci), (a_vm_lo_x, a_vm_lo_y, st_vmci)]),
    ("x2", "y2", [(b_sml_x, b_sml_y, st_sml), (b_sml_hi_x, b_sml_hi_y, st_smlci), (b_sml_lo_x, b_sml_lo_y, st_smlci),
                  (b_vm_x, b_vm_y, st_vm), (b_vm_hi_x, b_vm_hi_y, st_vmci), (b_vm_lo_x, b_vm_lo_y, st_vmci)]),
]
series_names = [legend_names[0], legend_names[1], legend_names[1], legend_names[2], legend_names[3], legend_names[3]]
for xa, ya, series in panels:
    for (xs, ys, st), nm in zip(series, series_names):
        fig.add_trace(go.Scatter(x=xs, y=ys, mode="lines", line=st, name=nm,
                                 xaxis=xa, yaxis=ya, showlegend=False, hoverinfo="skip"))

W, H = 1200, 1050
def px(v):
    return v / W
def py(v):
    return 1 - v / H

# geometry (pixels)
A_left, A_right, A_top, A_bot = 96, 1155, 62, 401
B_left, B_right, B_top, B_bot = 116, 1155, 606, 944

common_x = dict(range=[1993, 2019], tickvals=year_ticks, ticktext=year_labels, tickangle=45,
                showgrid=False, zeroline=False, showline=False, ticks="", automargin=False,
                tickfont=dict(family=FONT, size=20, color=TXT), ticklabelstandoff=12)
common_y = dict(range=[-5, 20], tickvals=pct_ticks, ticktext=pct_labels, showgrid=True, automargin=False,
                gridcolor=GRID, gridwidth=1.5, zeroline=False, showline=False, ticks="",
                tickfont=dict(family=FONT, size=20, color=TXT), ticklabelstandoff=18)
tick_axis = dict(range=[1993, 2019], tickvals=year_ticks, showticklabels=False, ticks="outside", automargin=False,
                 ticklen=7, tickwidth=1.5, tickcolor=GRID, showgrid=False, zeroline=False, showline=False)

fig.update_layout(
    template="none",
    width=W, height=H, autosize=False,
    margin=dict(l=0, r=0, t=0, b=0, pad=0, autoexpand=False),
    paper_bgcolor="white", plot_bgcolor="white", showlegend=False,
    xaxis=dict(domain=[px(A_left), px(A_right)], anchor="y", **common_x),
    yaxis=dict(domain=[py(A_bot), py(A_top)], anchor="x", **common_y),
    xaxis2=dict(domain=[px(B_left), px(B_right)], anchor="y2", **common_x),
    yaxis2=dict(domain=[py(B_bot), py(B_top)], anchor="x2", **common_y),
    xaxis3=dict(overlaying="x", anchor="free", position=py(A_top) - (py(A_top) - py(A_bot)) * 20 / 25, **tick_axis),
    xaxis4=dict(overlaying="x2", anchor="free", position=py(B_top) - (py(B_top) - py(B_bot)) * 20 / 25, **tick_axis),
)

# panel boxes
shapes = []
for top, bot in [(43, 518), (587, 1060)]:
    shapes.append(dict(type="rect", xref="paper", yref="paper", x0=px(11), x1=px(1210),
                       y0=py(bot), y1=py(top), line=dict(color=GRID, width=2), fillcolor="rgba(0,0,0,0)", layer="below"))

annotations = []
for title, ty in zip(panel_titles, [27, 570]):
    annotations.append(dict(text="<i>" + title + "</i>", xref="paper", yref="paper", x=px(612), y=py(ty),
                            showarrow=False, xanchor="center", yanchor="middle",
                            font=dict(family=FONT, size=26.5, color="#111111")))

# legends (manual, one per panel)
sym_x = [145, 285, 498, 802]
sym_len = 67
leg_styles = [st_sml, st_smlci, st_vm, st_vmci]
for ly in [489, 1033]:
    for sx, nm, st in zip(sym_x, legend_names, leg_styles):
        shapes.append(dict(type="line", xref="paper", yref="paper", x0=px(sx), x1=px(sx + sym_len),
                           y0=py(ly), y1=py(ly), line=st))
        annotations.append(dict(text=nm, xref="paper", yref="paper", x=px(sx + sym_len + 10), y=py(ly),
                                showarrow=False, xanchor="left", yanchor="middle",
                                font=dict(family=FONT, size=19, color=TXT)))

fig.update_layout(shapes=shapes, annotations=annotations)
fig.write_html("out.html", config={"responsive": False, "displayModeBar": False},
               post_script="document.body.style.margin='0';document.body.style.padding='0';")
